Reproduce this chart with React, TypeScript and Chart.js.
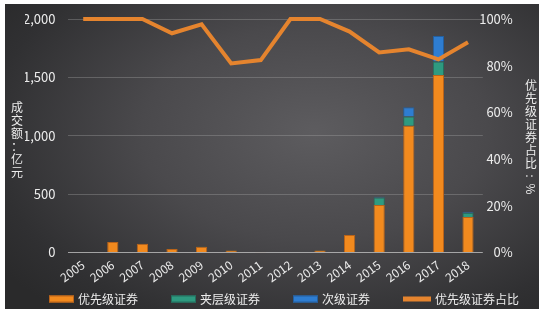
import React, { useEffect, useRef } from "react";
import { Chart, registerables } from "chart.js";

Chart.register(...registerables);

const years = ["2005", "2006", "2007", "2008", "2009", "2010", "2011", "2012", "2013", "2014", "2015", "2016", "2017", "2018"];
const seniorValues = [0, 90, 75, 30, 50, 17, 3, 0, 18, 150, 407, 1085, 1520, 305];
const mezzValues = [0, 0, 0, 2, 1, 3, 0, 0, 1, 0, 65, 80, 115, 35];
const subValues = [0, 0, 0, 0, 0, 0, 0, 0, 0, 0, 6, 80, 220, 8];
const seniorShare = [100, 100, 100, 93.9, 97.7, 81, 82.4, 100, 100, 94.6, 85.7, 87, 82.7, 90];
const leftTicks = [0, 500, 1000, 1500, 2000];
const rightTicks = [0, 20, 40, 60, 80, 100];
const seriesNames = ["优先级证券", "夹层级证券", "次级证券", "优先级证券占比"];
const leftTitle = "成交额：亿元";
const rightTitle = "优先级证券占比：%";

const FONT = "'Noto Sans CJK SC', 'Noto Sans', sans-serif";
const TEXT = "#ececec";
const ORANGE = "#F28A1E";
const LINE_ORANGE = "#E5842E";

const verticalTitles = {
  id: "verticalTitles",
  afterDraw(chart: any) {
    const ctx = chart.ctx;
    ctx.save();
    ctx.fillStyle = TEXT;
    ctx.font = `12px ${FONT}`;
    ctx.textAlign = "center";
    ctx.textBaseline = "middle";
    Array.from(leftTitle).forEach((ch, i) => {
      ctx.fillText(ch, 12, 103 + i * 13);
    });
    Array.from(rightTitle).forEach((ch, i) => {
      const x = 526;
      const y = 81 + i * 13;
      if (ch === "%" || ch === "：") {
        ctx.save();
        ctx.translate(x, y);
        ctx.rotate(Math.PI / 2);
        ctx.fillText(ch === "：" ? ":" : ch, 0, 0);
        ctx.restore();
      } else {
        ctx.fillText(ch, x, y);
      }
    });
    ctx.restore();
  },
};

const customLegend = {
  id: "customLegend",
  afterDraw(chart: any) {
    const ctx = chart.ctx;
    ctx.save();
    ctx.font = `12px ${FONT}`;
    ctx.textBaseline = "middle";
    ctx.textAlign = "left";
    const ds = chart.data.datasets;
    const boxW = ds.map((d: any) => (d.type === "line" ? 28 : 25));
    const gapText = 4;
    const gapItem = 33;
    const widths = ds.map((d: any, i: number) => boxW[i] + gapText + ctx.measureText(d.label).width);
    const total = widths.reduce((a: number, b: number) => a + b, 0) + gapItem * (ds.length - 1);
    let x = 279 - total / 2;
    const y = 295;
    ds.forEach((d: any, i: number) => {
      if (d.type === "line") {
        ctx.fillStyle = d.borderColor;
        ctx.fillRect(x, y - 2.5, boxW[i], 5);
      } else {
        ctx.fillStyle = d.backgroundColor;
        ctx.fillRect(x, y - 3.5, boxW[i], 7);
        ctx.strokeStyle = d.borderColor;
        ctx.lineWidth = 1;
        ctx.strokeRect(x + 0.5, y - 3.5 + 0.5, boxW[i] - 1, 6);
      }
      ctx.fillStyle = TEXT;
      ctx.fillText(d.label, x + boxW[i] + gapText, y);
      x += widths[i] + gapItem;
    });
    ctx.restore();
  },
};

export default function App() {
  const ref = useRef<HTMLCanvasElement | null>(null);

  useEffect(() => {
    if (!ref.current) return;
    const barCommon = { stack: "s", yAxisID: "y", order: 1, barPercentage: 0.38, categoryPercentage: 1, borderWidth: 1 };
    const chart = new Chart(ref.current, {
      type: "bar",
      data: {
        labels: years,
        datasets: [
          { type: "bar", label: seriesNames[0], data: seniorValues, backgroundColor: ORANGE, borderColor: "#B9631A", ...barCommon },
          { type: "bar", label: seriesNames[1], data: mezzValues, backgroundColor: "#2E9A80", borderColor: "#236F5E", ...barCommon },
          { type: "bar", label: seriesNames[2], data: subValues, backgroundColor: "#2E7DD1", borderColor: "#245F9E", ...barCommon },
          {
            type: "line",
            label: seriesNames[3],
            data: seniorShare,
            borderColor: LINE_ORANGE,
            backgroundColor: LINE_ORANGE,
            borderWidth: 4,
            pointRadius: 0,
            tension: 0,
            yAxisID: "y1",
            order: 0,
            clip: false,
          } as any,
        ],
      },
      options: {
        animation: false,
        responsive: false,
        layout: { padding: { left: 20, right: 0, top: 15, bottom: 0 } },
        plugins: {
          tooltip: { enabled: false },
          legend: { display: false },
        },
        scales: {
          x: {
            stacked: true,
            grid: { display: false },
            border: { display: false },
            ticks: {
              color: TEXT,
              font: { size: 12, family: FONT },
              minRotation: 36,
              maxRotation: 36,
              autoSkip: false,
              padding: -3,
            },
            afterFit: (s: any) => {
              s.height = 56.5;
              s.paddingLeft = 0;
              s.paddingRight = 0;
            },
          },
          y: {
            stacked: true,
            min: 0,
            max: 2000,
            afterBuildTicks: (s: any) => {
              s.ticks = leftTicks.map((v) => ({ value: v }));
            },
            grid: {
              color: (c: any) => (c.tick && c.tick.value === 0 ? "rgba(200,200,200,0.75)" : "rgba(170,170,170,0.35)"),
              drawTicks: false,
              lineWidth: 1,
            },
            border: { display: false },
            ticks: {
              color: TEXT,
              font: { size: 13, family: FONT },
              padding: 13,
              callback: (v: any) => Number(v).toLocaleString("en-US"),
            },
            afterFit: (s: any) => {
              s.width = 43.4;
              s.paddingTop = 0;
              s.paddingBottom = 0;
            },
          },
          y1: {
            position: "right",
            min: 0,
            max: 100,
            afterBuildTicks: (s: any) => {
              s.ticks = rightTicks.map((v) => ({ value: v }));
            },
            grid: { drawOnChartArea: false, drawTicks: false },
            border: { display: false },
            ticks: {
              color: TEXT,
              font: { size: 13, family: FONT },
              mirror: true,
              padding: 30,
              crossAlign: "near",
              callback: (v: any) => `${v}%`,
            },
            afterFit: (s: any) => {
              s.width = 56.2;
              s.paddingTop = 0;
              s.paddingBottom = 0;
            },
          },
        },
      },
      plugins: [verticalTitles, customLegend],
    } as any);
    return () => chart.destroy();
  }, []);

  return (
    <div style={{ position: "fixed", left: 0, top: 0, width: 546, height: 313, background: "#ffffff" }}>
      <div
        style={{
          position: "absolute",
          left: 5,
          top: 4,
          width: 534,
          height: 305,
          background:
            "radial-gradient(ellipse 72% 78% at 58% 42%, #5d5c5f 0%, #4a494c 45%, #303032 85%, #2a2a2b 100%)",
        }}
      >
        <canvas ref={ref} width={534} height={305} style={{ display: "block" }} />
      </div>
    </div>
  );
}
